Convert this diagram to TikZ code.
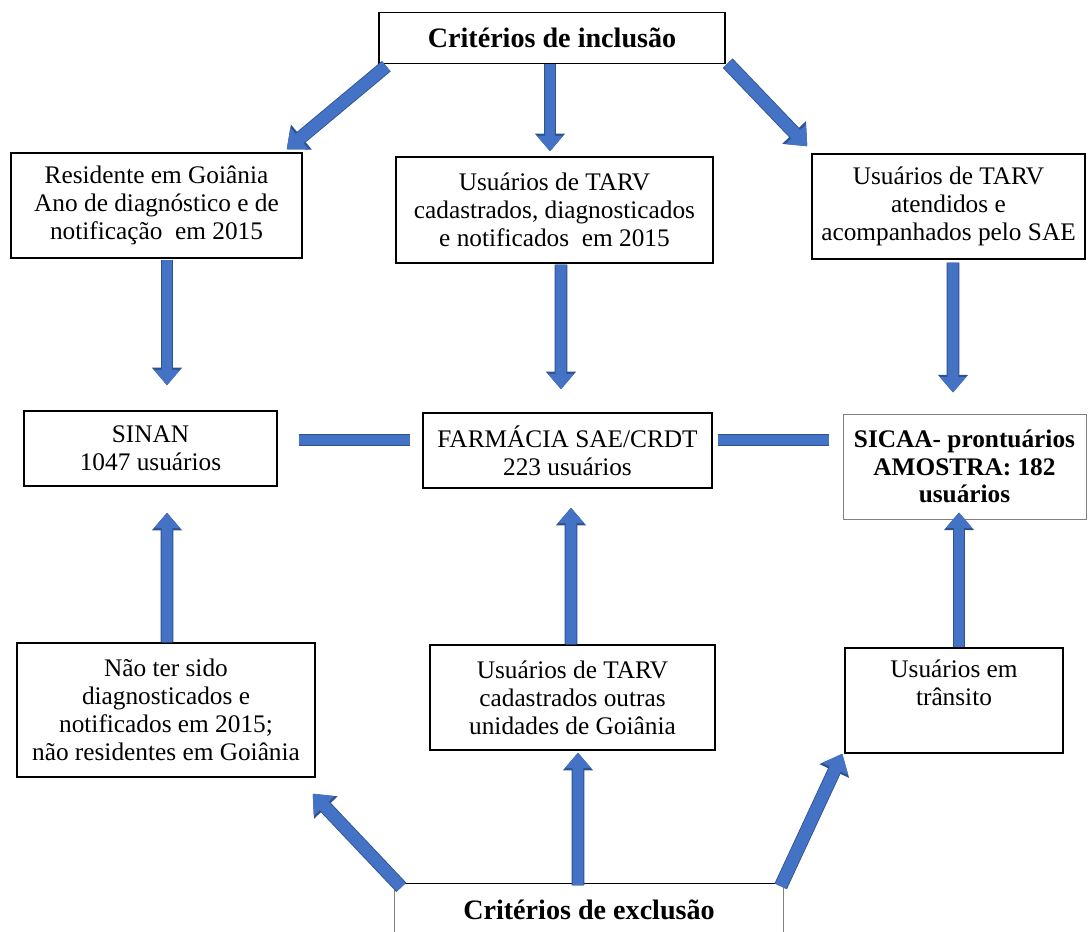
\documentclass[tikz,border=0pt]{standalone}
\usepackage{fontspec}
\setmainfont{Liberation Serif}
\usetikzlibrary{arrows.meta}
\definecolor{arrfill}{HTML}{4472C4}
\definecolor{arredge}{HTML}{2F528F}
\newcommand{\pu}{0.025cm}
\begin{document}
\begin{tikzpicture}[x=0.025cm, y=-0.025cm, line join=miter,
  crit/.style={draw, line width=1pt, align=center, inner sep=0pt, font=\fontsize{18}{19.8}\selectfont},
  title/.style={crit, font=\fontsize{20}{22}\selectfont\bfseries},
  blk/.style={draw=arrfill, line width=#1, -{Triangle[length=0pt 1.4, width=0pt 2.3]},
    preaction={draw=arredge, line width=#1+1.2pt, -{Triangle[length=0pt 1.4, width=0pt 2.3]}}},
  blk/.default=7.8pt,
  bar/.style={draw=arrfill, line width=7.8pt, preaction={draw=arredge, line width=9pt}}]
\clip (0,0) rectangle (1088,932);
\node[title, minimum width=346*\pu, minimum height=51*\pu] (inc) at (552,38) {Critérios de inclusão};
\node[crit, minimum width=291*\pu, minimum height=105*\pu] (resA) at (156.5,205.5) {Residente em Goiânia\\Ano de diagnóstico e de\\notificação~ em 2015};
\node[crit, minimum width=317*\pu, minimum height=106*\pu] (cadB) at (554.5,210) {Usuários de TARV\\cadastrados, diagnosticados\\e notificados~ em 2015};
\node[crit, minimum width=273*\pu, minimum height=105*\pu] (atendC) at (948.5,206.5) {Usuários de TARV\\atendidos e\\acompanhados pelo SAE};
\node[crit, minimum width=253*\pu, minimum height=75*\pu] (sinan) at (150.5,448.5) {SINAN\\1047 usuários};
\node[crit, minimum width=289*\pu, minimum height=75*\pu] (farm) at (567.5,450.5) {FARMÁCIA SAE/CRDT\\223 usuários};
\node[crit, draw=gray, line width=0.7pt, font=\fontsize{18}{19.8}\selectfont\bfseries, minimum width=243*\pu, minimum height=105*\pu] (sicaa) at (964.5,466.5) {SICAA- prontuários\\AMOSTRA: 182\\usuários};
\node[crit, minimum width=298*\pu, minimum height=134*\pu] (naoD) at (166,710) {Não ter sido\\diagnosticados e\\notificados em 2015;\\não residentes em Goiânia};
\node[crit, minimum width=285*\pu, minimum height=105*\pu] (outE) at (572.5,697.5) {Usuários de TARV\\cadastrados outras\\unidades de Goiânia};
\node[crit, minimum width=218*\pu, minimum height=105*\pu] (tranF) at (954,700.5) {Usuários em\\trânsito\\\strut};
\node[title, draw=none, minimum width=388*\pu, minimum height=52*\pu] (exc) at (589,910) {Critérios de exclusão};
\draw[gray, line width=0.8pt] (exc.south west) -- (exc.north west) (exc.north east) -- (exc.south east);
\draw[line width=1pt] (exc.north west) -- (exc.north east);
\draw[blk=8.5pt] ([shift={(8,2)}]inc.south west) -- ([shift={(-16,-3)}]resA.north east);
\draw[blk] ([shift={(-2,0)}]inc.south) -- ([shift={(-4.5,-5)}]cadB.north);
\draw[blk=8.5pt] ([shift={(2,-1)}]inc.south east) -- ([shift={(-4,-7)}]atendC.north west);
\draw[blk] ([shift={(10.5,1)}]resA.south) -- ([shift={(16.5,-25)}]sinan.north);
\draw[blk] ([shift={(6.5,1)}]cadB.south) -- ([shift={(-6.5,-23)}]farm.north);
\draw[blk] ([shift={(4.5,3)}]atendC.south) -- ([shift={(-11.5,-21)}]sicaa.north);
\draw[bar] ([shift={(21,-8.5)}]sinan.east) -- ([shift={(-12,-10.5)}]farm.west);
\draw[bar] ([shift={(5,-10.5)}]farm.east) -- ([shift={(-14,-26.5)}]sicaa.west);
\draw[blk] ([shift={(1,0)}]naoD.north) -- ([shift={(16.5,26)}]sinan.south);
\draw[blk] ([shift={(-1.5,0)}]outE.north) -- ([shift={(3.5,19)}]farm.south);
\draw[blk] ([shift={(5,0)}]tranF.north) -- ([shift={(-5.5,-7)}]sicaa.south);
\draw[blk=8.5pt] ([shift={(7,4)}]exc.north west) -- ([shift={(-3,16)}]naoD.south east);
\draw[blk] ([shift={(-11,2)}]exc.north) -- ([shift={(5.5,2)}]outE.south);
\draw[blk=8.5pt] ([shift={(-3,3)}]exc.north east) -- ([shift={(-2,0)}]tranF.south west);
\end{tikzpicture}
\end{document}
